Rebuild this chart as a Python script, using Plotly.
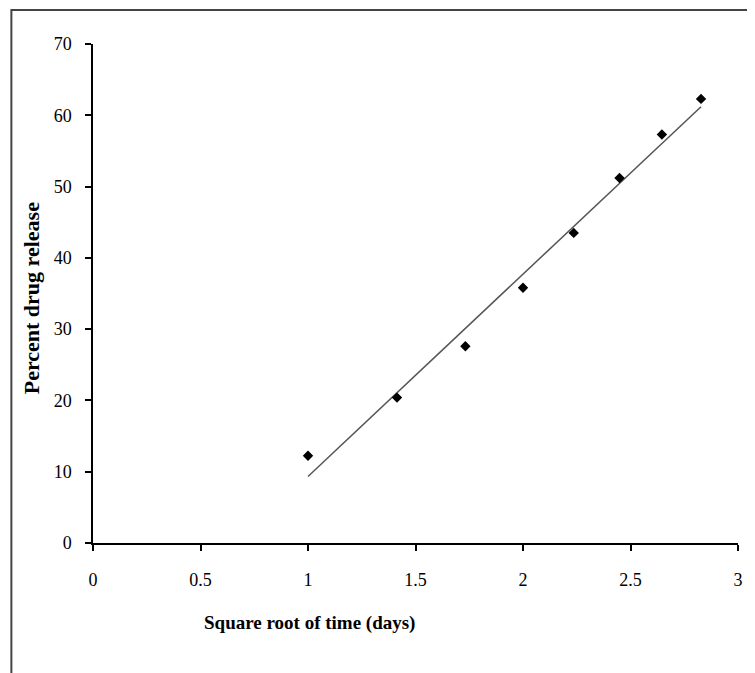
import plotly.graph_objects as go

# Data
sqrt_time = [1.0, 1.414, 1.732, 2.0, 2.236, 2.449, 2.646, 2.828]
percent_release = [12.25, 20.4, 27.6, 35.8, 43.5, 51.2, 57.3, 62.3]
x_ticks = [0, 0.5, 1, 1.5, 2, 2.5, 3]
x_tick_text = ["0", "0.5", "1", "1.5", "2", "2.5", "3"]
y_ticks = [0, 10, 20, 30, 40, 50, 60, 70]

# Linear trendline (least squares) computed from the data
n = len(sqrt_time)
mx = sum(sqrt_time) / n
my = sum(percent_release) / n
sxy = sum((a - mx) * (b - my) for a, b in zip(sqrt_time, percent_release))
sxx = sum((a - mx) ** 2 for a in sqrt_time)
slope = sxy / sxx
intercept = my - slope * mx
trend_x = [sqrt_time[0], sqrt_time[-1]]
trend_y = [intercept + slope * v for v in trend_x]

fig = go.Figure()
fig.add_trace(go.Scatter(x=trend_x, y=trend_y, mode="lines",
                         line=dict(color="#555555", width=1.5),
                         showlegend=False, hoverinfo="skip"))
fig.add_trace(go.Scatter(x=sqrt_time, y=percent_release, mode="markers",
                         marker=dict(symbol="diamond", size=8, color="black"),
                         showlegend=False))

# page offset (browser body margin)
OFF = 8
W, H = 755 - OFF, 673 - OFF
L, T = 93 - OFF, 44 - OFF
R = W - (741 - OFF)
B = H - (543 - OFF)
pw, ph = W - L - R, H - T - B

def px_to_paper_x(px):
    return (px - OFF - L) / pw

def px_to_paper_y(py):
    return (H - B - (py - OFF)) / ph

font_family = "Liberation Serif, Times New Roman, serif"

fig.update_layout(
    width=W, height=H,
    margin=dict(l=L, r=R, t=T, b=B),
    plot_bgcolor="white", paper_bgcolor="white",
    font=dict(family=font_family, size=18, color="black"),
    xaxis=dict(range=[0, 3], tickvals=x_ticks, ticktext=x_tick_text,
               showgrid=False, zeroline=False, showline=True,
               linecolor="black", linewidth=1.5,
               ticks="outside", ticklen=6, tickwidth=1.5, tickcolor="black",
               ticklabelstandoff=14,
               tickfont=dict(family=font_family, size=18, color="black")),
    yaxis=dict(range=[0, 70], tickvals=y_ticks,
               showgrid=False, zeroline=False, showline=True,
               linecolor="black", linewidth=1.5,
               ticks="outside", ticklen=6, tickwidth=1.5, tickcolor="black",
               ticklabelstandoff=10,
               tickfont=dict(family=font_family, size=18, color="black")),
    shapes=[dict(type="path", xref="paper", yref="paper",
                 path=f"M {px_to_paper_x(11)} {px_to_paper_y(H + 20)} "
                      f"L {px_to_paper_x(11)} {px_to_paper_y(10)} "
                      f"L {px_to_paper_x(W + 30)} {px_to_paper_y(10)}",
                 line=dict(color="#444444", width=2))],
    annotations=[
        dict(text="<b>Square root of time (days)</b>", xref="paper", yref="paper",
             x=px_to_paper_x(311), y=px_to_paper_y(623), showarrow=False,
             xanchor="center", yanchor="middle",
             font=dict(family=font_family, size=19, color="black")),
        dict(text="<b>Percent drug release</b>", xref="paper", yref="paper",
             x=px_to_paper_x(31), y=px_to_paper_y(298), showarrow=False,
             textangle=-90, xanchor="center", yanchor="middle",
             font=dict(family=font_family, size=22, color="black")),
    ],
)

fig.write_html("out.html")
